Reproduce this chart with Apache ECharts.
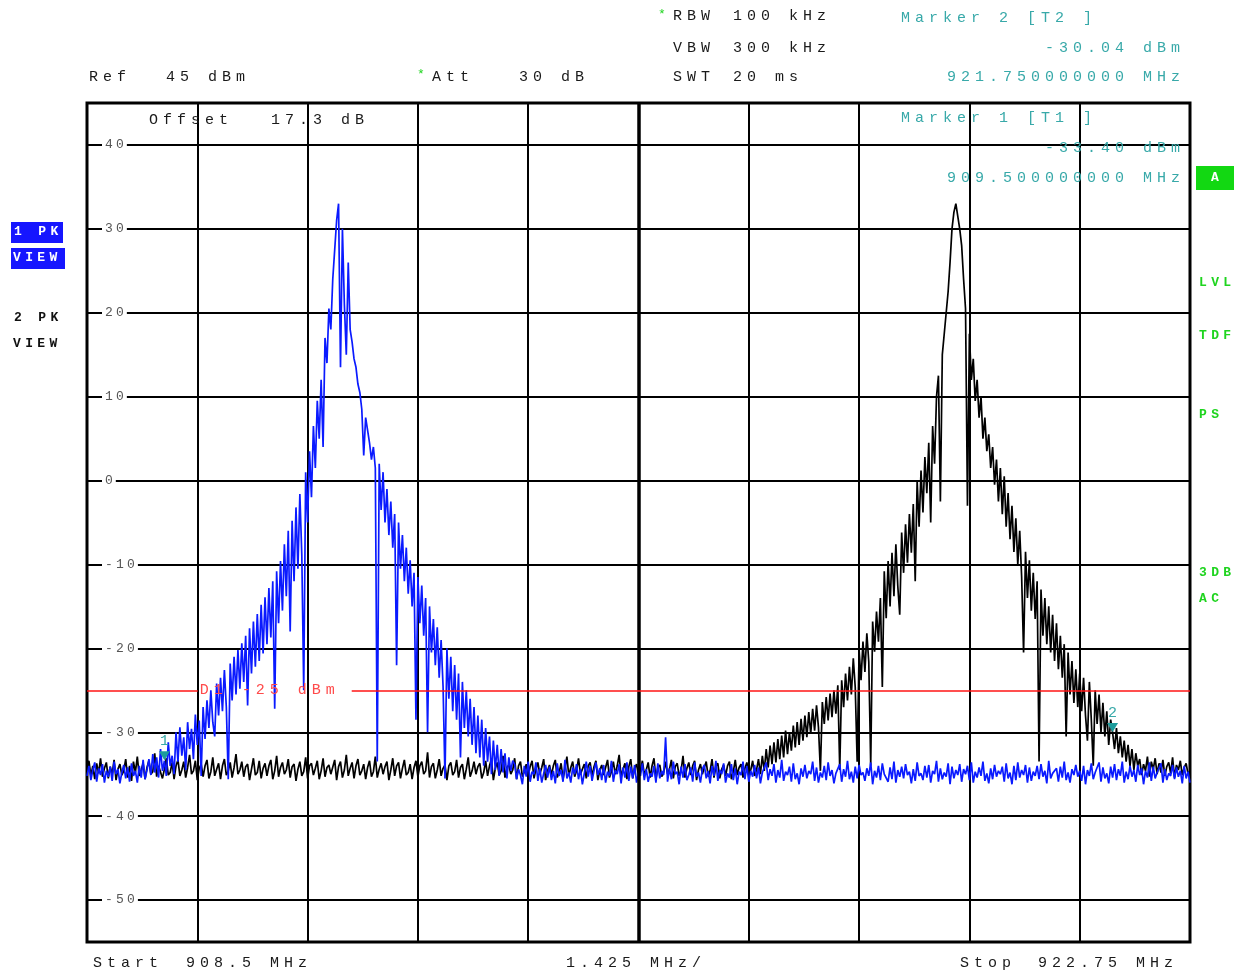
<!DOCTYPE html>
<html>
<head>
<meta charset="utf-8">
<title>Spectrum 908.5 - 922.75 MHz</title>
<script src="https://cdn.jsdelivr.net/npm/echarts@6/dist/echarts.min.js"></script>
<style>
  html, body { margin: 0; padding: 0; background: #fff; }
  #main { width: 1241px; height: 976px; }
</style>
</head>
<body>
<div id="main"></div>
<script>
// sweep settings
const startMHz = 908.5;
const stopMHz = 922.75;
const divMHz = 1.425;
const stepMHz = 0.025;   // one trace point every 25 kHz (571 points)
const refLevel = 45;
const bottomLevel = -55;
const offsetDb = 17.3;
const attDb = 30;

const levelTicks = [-50, -40, -30, -20, -10, 0, 10, 20, 30, 40];

// trace 1 (blue), dBm
const trace1 = [
  -35.2,-34.0,-35.7,-34.5,-33.6,-35.9,-34.3,-35.1,-33.8,-36.0,-34.6,-35.3,-34.1,-35.8,-33.5,-35.0,
  -34.4,-36.1,-34.8,-33.9,-35.5,-34.2,-35.9,-33.7,-35.2,-34.6,-36.0,-34.0,-35.4,-33.3,-35.6,-34.5,
  -33.2,-35.1,-32.6,-34.8,-33.0,-35.4,-32.0,-34.6,-33.4,-35.2,-31.2,-34.0,-32.8,-35.0,
  -30.0,-33.5,-29.4,-32.8,-30.6,-34.5,-28.8,-32.0,-29.6,-33.2,-27.9,-31.5,-28.6,-35.2,-27.0,-30.8,-26.2,
  -29.5,-25.0,-28.8,-30.5,-24.2,-28.0,-23.5,-27.5,-22.6,-27.0,-35.6,-21.8,-26.2,-21.0,-25.5,-20.2,-24.8,-19.4,
  -24.0,-18.5,-26.8,-17.6,-23.0,-16.8,-22.2,-15.9,-21.5,-14.8,-20.6,-13.9,-19.5,-12.8,-18.7,-12.0,-27.2,-10.8,-17.0,-9.6,
  -15.5,-7.6,-13.8,-6.0,-18.0,-4.8,-12.0,-3.2,-10.5,-1.6,-8.8,-25.0,
  1.0,-5.0,3.5,-2.0,6.5,1.5,9.5,5.0,12.0,4.0,17.0,14.0,20.5,18.0,24.0,27.5,31.0,33.0,
  13.5,30.0,21.0,15.0,26.0,18.0,16.5,14.5,13.5,11.5,10.5,8.5,3.0,7.5,6.0,4.5,2.5,4.0,1.5,-33.5,
  2.0,-3.5,1.0,-5.0,-1.0,-6.5,-2.5,-8.0,-4.0,-22.0,-5.0,-10.5,-6.5,-12.0,-8.0,-13.5,-9.5,-15.0,-11.0,-28.5,
  -11.5,-17.0,-12.5,-18.5,-14.0,-30.0,-15.0,-20.5,-16.5,-22.0,-17.5,-23.5,-19.0,-24.5,-35.5,-20.0,-26.0,-21.0,-27.5,-22.0,
  -28.5,-23.0,-33.0,-24.0,-29.5,-25.0,-30.5,-26.0,-31.5,-27.0,-32.5,-28.0,-33.0,-28.5,-34.0,-29.5,-33.5,-30.5,-35.0,-31.0,
  -34.5,-31.5,-35.2,-32.0,-34.8,-32.5,-35.5,-33.0,-34.6,-33.4,
  -33.8,-35.6,-34.4,-35.1,-36.2,-34.0,-35.3,-33.5,-35.9,-34.7,
  -35.0,-33.6,-35.8,-34.3,-36.0,-34.9,-33.9,-35.4,-34.1,-35.7,
  -34.6,-36.1,-33.7,-35.2,-34.5,-35.9,-33.3,-35.5,-34.8,-36.0,
  -34.2,-35.0,-33.8,-35.6,-34.4,-36.2,-34.9,-33.5,-35.3,-34.0,
  -35.8,-34.6,-33.6,-35.1,-34.3,-35.7,-33.9,-36.0,-34.7,-35.2,
  -33.4,-35.9,-34.5,-35.0,-33.8,-36.1,-34.2,-35.4,-33.6,-35.8,
  -34.1,-35.5,-33.9,-36.0,-34.8,-35.2,-33.7,-35.7,-34.4,-35.9,
  -34.9,-35.3,-34.0,-36.0,-33.7,-35.5,-34.6,-35.1,-30.6,-35.9,
  -34.3,-35.6,-33.5,-35.0,-34.7,-36.2,-34.1,-35.4,-33.8,-35.7,
  -35.1,-34.2,-35.9,-33.6,-35.3,-34.8,-36.0,-34.4,-33.9,-35.5,
  -34.6,-36.1,-34.0,-35.2,-33.4,-35.8,-34.5,-35.0,-33.7,-36.0,
  -34.9,-35.4,-33.8,-35.7,-34.3,-36.2,-34.7,-35.1,-33.5,-35.6,
  -34.0,-35.9,-34.6,-35.3,-33.9,-35.5,-34.2,-36.1,-34.8,-35.0,
  -33.6,-35.7,-34.4,-35.2,-33.8,-36.0,-34.5,-35.4,-33.3,-35.8,
  -34.7,-35.1,-34.1,-35.9,-33.7,-35.6,-34.9,-36.2,-34.3,-35.3,
  -33.9,-35.5,-34.6,-35.0,-33.5,-35.8,-34.2,-36.0,-34.8,-35.4,
  -34.0,-35.7,-33.6,-35.2,-34.5,-36.1,-34.9,-35.0,-33.8,-35.9,
  -34.4,-35.3,-33.4,-35.6,-34.7,-36.0,-34.1,-35.5,-33.9,-35.1,
  -34.8,-35.8,-34.3,-35.2,-33.6,-36.2,-34.6,-35.4,-34.0,-35.7,
  -33.7,-35.0,-34.9,-35.9,-34.2,-35.6,-33.5,-36.0,-34.5,-35.3,
  -34.1,-35.5,-33.8,-35.1,-34.7,-36.1,-34.4,-35.8,-33.6,-35.2,
  -34.9,-35.7,-34.0,-35.4,-33.9,-36.0,-34.6,-35.0,-33.4,-35.9,
  -34.3,-35.6,-34.8,-35.3,-33.7,-36.2,-34.1,-35.5,-34.5,-35.1,
  -33.8,-35.9,-34.4,-35.0,-34.0,-35.7,-33.6,-36.0,-34.7,-35.4,
  -34.2,-35.2,-33.5,-35.8,-34.9,-36.1,-34.3,-35.6,-33.9,-35.3,
  -34.6,-35.0,-34.1,-35.9,-33.7,-35.5,-34.8,-36.2,-34.0,-35.7,
  -33.6,-35.4,-34.5,-35.1,-33.9,-36.0,-34.2,-35.8,-34.7,-35.2,
  -34.0,-35.6,-33.8,-35.3,-34.6,-36.1,-33.4,-35.5,-34.9,-35.0,
  -34.3,-35.9,-34.1,-35.4,-33.5,-35.7,-34.8,-36.0,-34.4,-35.1,
  -33.9,-35.3,-34.6,-35.8,-34.0,-36.2,-34.5,-35.2,-33.7,-35.6,
  -34.8,-35.0,-33.6,-35.9,-34.2,-35.5,-34.9,-36.1,-34.1,-35.4,
  -33.8,-35.7,-34.4,-35.2,-33.5,-36.0,-34.7,-35.6,-34.0,-35.3,
  -34.5,-35.9,-33.9,-35.1,-34.3,-36.2,-34.6,-35.4,-33.6,-35.8,
  -34.1,-35.5,-34.8,-35.0,-33.7,-36.0,-34.4,-35.7,-34.9,-35.2,
  -33.9,-35.6,-34.2,-35.3,-34.6,-36.1,-34.0,-35.5,-34.7,-36.0
];

// trace 2 (black), dBm
const trace2 = [
  -34.6,-33.4,-35.2,-34.0,-35.6,-33.7,-34.9,-33.1,-35.3,-34.3,
  -33.6,-35.5,-34.1,-35.0,-33.3,-35.7,-34.4,-33.8,-35.1,-34.6,
  -33.2,-35.4,-34.0,-35.8,-33.5,-34.8,-32.9,-35.2,-34.5,-33.7,
  -35.6,-34.2,-33.4,-35.0,-34.7,-32.5,-35.3,-34.0,-33.9,-35.5,
  -34.4,-33.1,-35.1,-34.8,-33.6,-35.6,-34.0,-33.3,-35.2,-34.5,
  -33.5,-35.4,-34.2,-32.7,-35.0,-34.6,-33.4,-35.7,-34.3,-33.8,
  -35.3,-34.0,-33.3,-35.5,-34.7,-33.0,-35.2,-34.4,-33.7,-35.6,
  -34.0,-33.2,-35.1,-34.6,-33.6,-35.4,-34.2,-32.6,-35.0,-34.5,
  -33.5,-35.3,-34.1,-33.8,-35.7,-34.4,-33.1,-35.1,-34.8,-33.4,
  -35.5,-34.3,-33.7,-35.2,-34.0,-33.3,-35.6,-34.6,-32.8,-35.3,
  -34.2,-33.6,-35.0,-34.5,-33.2,-35.4,-34.1,-33.8,-35.8,-34.4,
  -33.5,-35.2,-34.7,-33.0,-35.5,-34.0,-33.7,-35.1,-34.3,-33.4,
  -35.6,-34.6,-33.1,-35.3,-34.2,-33.9,-35.0,-34.8,-33.3,-35.7,
  -34.1,-33.5,-35.4,-34.5,-32.7,-35.2,-34.3,-33.6,-35.5,-34.0,
  -33.2,-35.1,-34.6,-33.8,-35.6,-34.2,-33.4,-35.3,-34.7,-32.9,
  -35.4,-34.4,-33.7,-35.0,-34.1,-33.5,-35.7,-34.5,-33.1,-35.2,
  -34.0,-33.6,-35.5,-34.3,-33.3,-35.1,-34.8,-33.8,-35.6,-34.2,
  -33.4,-35.3,-34.0,-33.5,-35.0,-34.6,-32.4,-35.4,-34.1,-33.7,
  -35.5,-34.5,-33.2,-35.2,-34.3,-33.9,-35.7,-34.0,-33.6,-35.1,
  -34.7,-33.3,-35.4,-34.2,-33.8,-35.6,-34.4,-33.0,-35.3,-34.6,
  -33.5,-35.0,-34.1,-33.7,-35.5,-34.8,-33.4,-35.2,-34.0,-33.2,
  -35.7,-34.3,-33.6,-35.1,-34.6,-32.8,-35.4,-34.2,-33.9,-35.0,
  -34.5,-33.1,-35.6,-34.0,-33.5,-35.3,-34.7,-33.8,-35.2,-34.1,
  -33.4,-35.5,-34.4,-33.6,-35.0,-34.2,-33.2,-35.7,-34.6,-33.9,
  -35.1,-34.0,-33.3,-35.4,-34.8,-33.7,-35.6,-34.3,-32.9,-35.2,
  -34.2,-33.5,-35.3,-34.6,-33.1,-35.0,-34.4,-33.8,-35.5,-34.0,
  -33.6,-35.2,-34.1,-33.4,-35.7,-34.5,-33.9,-35.1,-34.2,-33.3,
  -35.4,-34.7,-33.5,-35.0,-34.0,-32.7,-35.3,-34.4,-33.7,-35.6,
  -34.1,-33.2,-35.5,-34.3,-33.8,-35.2,-34.6,-33.4,-35.0,-34.5,
  -33.6,-35.4,-34.0,-33.1,-35.6,-34.2,-33.9,-35.3,-34.8,-33.5,
  -35.0,-34.4,-33.3,-35.5,-34.1,-33.7,-35.2,-34.6,-32.8,-35.4,
  -34.3,-33.6,-35.1,-34.0,-33.4,-35.7,-34.5,-33.8,-35.0,-34.2,
  -33.5,-35.3,-34.6,-33.2,-35.4,-34.1,-33.7,-35.5,-34.4,-33.9,
  -35.2,-34.0,-33.5,-35.6,-34.7,-33.3,-35.1,-34.2,-33.8,-35.4,
  -34.3,-33.6,-35.0,-34.5,-33.4,-35.2,
  -34.5,-33.2,-35.0,-32.8,-34.6,-32.0,-34.2,-31.6,-33.8,-31.2,
  -33.6,-30.8,-33.2,-30.4,-33.0,-29.8,-32.6,-30.0,-32.2,-29.2,
  -31.8,-28.8,-31.5,-28.4,-31.0,-28.0,-30.6,-27.6,-30.2,-27.2,
  -29.8,-26.8,-29.4,-34.6,-26.4,-29.0,-25.8,-28.6,-25.4,-28.2,
  -25.0,-27.8,-24.4,-34.5,-23.8,-27.0,-23.0,-26.2,-22.2,-25.5,
  -21.2,-24.6,-33.5,-20.2,-23.8,-19.2,-22.8,-18.2,-21.6,-34.0,
  -16.8,-20.4,-15.6,-19.2,-14.0,-24.6,-10.8,-16.4,-9.6,-15.0,
  -8.6,-13.8,-7.6,-12.6,-16.0,-6.2,-11.0,-5.2,-9.8,-4.0,
  -8.6,-2.8,-12.0,0.0,-5.5,1.2,-3.8,2.8,-1.5,4.5,
  -5.0,6.5,2.0,10.0,12.5,-2.5,15.0,17.5,20.0,22.5,
  26.0,30.0,32.0,33.0,31.5,30.0,28.0,24.0,20.5,-3.0,
  17.5,12.0,14.5,9.5,12.0,7.5,10.0,5.0,7.5,3.5,
  5.5,1.5,4.0,-0.5,2.5,-2.5,1.5,-4.0,0.5,-5.5,
  -1.5,-7.0,-3.0,-8.5,-4.5,-10.0,-6.0,-11.5,-20.5,-8.5,
  -14.0,-9.5,-15.5,-11.0,-16.5,-12.0,-33.5,-13.0,-18.5,-14.0,
  -19.5,-15.0,-20.5,-16.0,-21.5,-17.0,-22.5,-18.5,-23.5,-19.5,
  -30.5,-20.5,-25.5,-21.5,-26.5,-22.5,-27.0,-23.0,-27.5,-23.5,
  -28.0,-31.0,-24.0,-28.5,-34.0,-25.0,-29.0,-25.5,-30.0,-26.5,
  -30.5,-27.5,-31.5,-28.5,-30.04,-32.0,-29.5,-32.5,-30.5,-33.0,
  -31.0,-33.5,-31.5,-34.0,-32.0,-34.5,-32.5,
  -34.0,-33.2,-35.1,-33.8,-34.6,-32.9,-35.3,-33.5,-34.4,-33.1,
  -35.0,-33.7,-34.8,-33.3,-35.2,-34.1,-33.6,-34.9,-33.0,-35.4,
  -33.9,-34.5,-33.4,-35.1,-34.2,-33.7,-35.0,-34.6
];

// markers: [T1] on trace 1, [T2] on trace 2
const markerNames = ['1', '2'];
const markerFreq = [909.5, 921.75];
const markerLevel = [-33.40, -30.04];

// display line D1
const displayLine = -25;
const displayLineGap = [1.43, 3.42];   // MHz from start where the label sits

const spanMHz = stopMHz - startMHz;

const ink = '#1a1a1a';
const teal = '#38a9a9';
const green = '#1fd41f';
const FONT = '"Liberation Mono", "Courier New", monospace';

// analyzer text is widely letter-spaced
function spaced(s, gap) {
  return String(s).split('').join(gap || '\u2004');
}

function txt(x, y, s, opt) {
  opt = opt || {};
  return {
    type: 'text', x: x, y: y, z: 100,
    style: {
      text: spaced(s, opt.gap),
      fill: opt.color || ink,
      font: (opt.bold ? 'bold ' : '') + (opt.size || 15) + 'px ' + FONT,
      align: opt.align || 'left',
      verticalAlign: 'middle'
    }
  };
}

function box(x, y, w, h, color) {
  return { type: 'rect', z: 99, shape: { x: x, y: y, width: w, height: h }, style: { fill: color } };
}

let myChart = echarts.init(document.getElementById('main'));

let graphics = [
  txt(89, 77, 'Ref'),
  txt(166, 77, refLevel + ' dBm'),
  txt(417, 75, '*', { color: green, size: 13 }),
  txt(432, 77, 'Att'),
  txt(519, 77, attDb + ' dB'),
  txt(658, 15, '*', { color: green, size: 13 }),
  txt(673, 16, 'RBW'),
  txt(733, 16, '100 kHz'),
  txt(673, 48, 'VBW'),
  txt(733, 48, '300 kHz'),
  txt(673, 77, 'SWT'),
  txt(733, 77, '20 ms'),
  txt(901, 18, 'Marker 2 [T2 ]', { color: teal }),
  txt(1180, 48, markerLevel[1].toFixed(2) + ' dBm', { color: teal, align: 'right' }),
  txt(1180, 77, markerFreq[1].toFixed(9) + ' MHz', { color: teal, align: 'right' }),
  txt(901, 118, 'Marker 1 [T1 ]', { color: teal }),
  txt(1180, 148, markerLevel[0].toFixed(2) + ' dBm', { color: teal, align: 'right' }),
  txt(1180, 178, markerFreq[0].toFixed(9) + ' MHz', { color: teal, align: 'right' }),
  txt(149, 120, 'Offset'),
  txt(271, 120, offsetDb.toFixed(1) + ' dB'),
  txt(93, 963, 'Start'),
  txt(186, 963, startMHz + ' MHz'),
  txt(566, 963, divMHz + ' MHz/'),
  txt(960, 963, 'Stop'),
  txt(1173, 963, stopMHz + ' MHz', { align: 'right' }),
  // left status
  box(11, 222, 52, 21, '#1616ff'),
  box(11, 248, 54, 21, '#1616ff'),
  txt(14, 232, '1 PK', { color: '#fff', bold: true, size: 13 }),
  txt(13, 258, 'VIEW', { color: '#fff', bold: true, size: 13 }),
  txt(14, 318, '2 PK', { color: '#111', bold: true, size: 13 }),
  txt(13, 344, 'VIEW', { color: '#111', bold: true, size: 13 }),
  // right status
  box(1196, 166, 38, 24, '#12d812'),
  txt(1215, 178, 'A', { color: '#fff', bold: true, size: 13, align: 'center' }),
  txt(1199, 283, 'LVL', { color: green, bold: true, size: 13 }),
  txt(1199, 336, 'TDF', { color: green, bold: true, size: 13 }),
  txt(1199, 415, 'PS', { color: green, bold: true, size: 13 }),
  txt(1199, 573, '3DB', { color: green, bold: true, size: 13 }),
  txt(1199, 599, 'AC', { color: green, bold: true, size: 13 })
];

function toPoints(trace) {
  return trace.map(function (v, i) { return [i * stepMHz, v]; });
}

function markerPoint(k) {
  return {
    coord: [markerFreq[k] - startMHz, markerLevel[k]],
    symbol: 'triangle',
    symbolSize: [11, 9],
    symbolRotate: 180,
    symbolOffset: [0, -5],
    itemStyle: { color: '#1d9c9c' },
    label: {
      show: true, position: 'top', distance: 3,
      formatter: markerNames[k], color: teal,
      fontFamily: FONT, fontSize: 15
    }
  };
}

let option = {
  backgroundColor: '#fff',
  animation: false,
  grid: {
    left: 87, right: 51, top: 103, bottom: 34,
    show: true, borderColor: '#000', borderWidth: 3, backgroundColor: '#fff'
  },
  xAxis: {
    type: 'value',
    min: 0, max: spanMHz, interval: divMHz,
    axisLine: { show: false },
    axisTick: { show: false },
    axisLabel: { show: false },
    splitLine: { show: true, lineStyle: { color: '#000', width: 2 } }
  },
  yAxis: {
    type: 'value',
    min: bottomLevel, max: refLevel,
    splitNumber: 10, minInterval: 10, maxInterval: 10,
    axisLine: { show: false },
    axisTick: { show: false },
    splitLine: { show: true, lineStyle: { color: '#000', width: 2 } },
    axisLabel: {
      inside: true,
      margin: 15,
      showMinLabel: false,
      showMaxLabel: false,
      color: '#555',
      fontFamily: FONT,
      fontSize: 13,
      backgroundColor: '#fff',
      padding: [2, 3],
      formatter: function (v) {
        return levelTicks.indexOf(v) >= 0 ? spaced(v, '\u2005') : '';
      }
    }
  },
  series: [
    {
      name: 'Trace 2',
      type: 'line',
      z: 2,
      data: toPoints(trace2),
      showSymbol: false,
      lineStyle: { color: '#000', width: 1.7 },
      itemStyle: { color: '#000' },
      markLine: {
        silent: true,
        symbol: 'none',
        label: { show: false },
        lineStyle: { color: '#000', width: 3.5, type: 'solid' },
        data: [{ xAxis: spanMHz / 2 }]
      },
      markPoint: { data: [markerPoint(1)] }
    },
    {
      name: 'Trace 1',
      type: 'line',
      z: 3,
      data: toPoints(trace1),
      showSymbol: false,
      lineStyle: { color: '#0a1aff', width: 1.7 },
      itemStyle: { color: '#0a1aff' },
      markLine: {
        silent: true,
        symbol: 'none',
        label: { show: false },
        lineStyle: { color: '#ff1414', width: 1.6, type: 'solid' },
        data: [
          [{ coord: [0, displayLine] }, { coord: [displayLineGap[0], displayLine] }],
          [{ coord: [displayLineGap[1], displayLine] }, { coord: [spanMHz, displayLine] }]
        ]
      },
      markPoint: {
        data: [
          markerPoint(0),
          {
            coord: [displayLineGap[0] + 0.02, displayLine],
            symbol: 'circle', symbolSize: 1,
            itemStyle: { color: 'rgba(0,0,0,0)' },
            label: {
              show: true, position: 'right', distance: 0,
              formatter: spaced('D1 ' + displayLine + ' dBm'),
              color: '#ff4a4a', fontFamily: FONT, fontSize: 15
            }
          }
        ]
      }
    }
  ],
  graphic: graphics
};

myChart.setOption(option);
window.onresize = function () {
  myChart.resize();
};
</script>
</body>
</html>
